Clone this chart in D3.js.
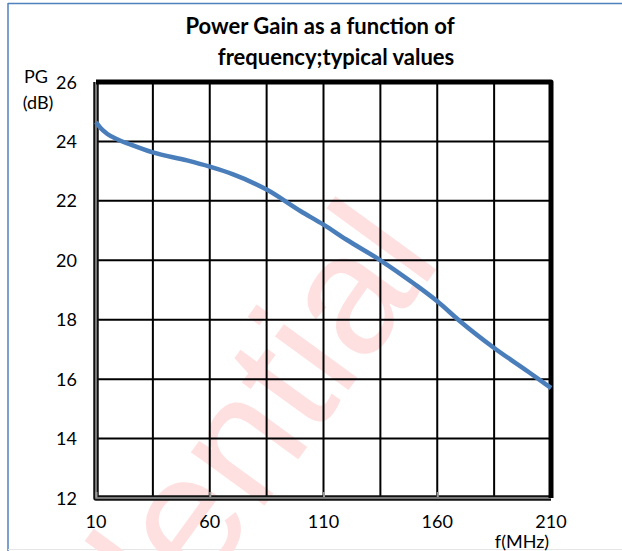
<!DOCTYPE html>
<html>
<head>
<meta charset="utf-8">
<script src="https://cdn.jsdelivr.net/npm/d3@7"></script>
<style>
  body { margin: 0; background: #fff; }
  text { font-family: Lato, "Open Sans", sans-serif; fill: #000; }
</style>
</head>
<body>
<div id="canvas"></div>
<script>
const w = 622, h = 551;

// values
const freq = [10, 12, 15, 20, 25, 35, 50, 60, 70, 85, 100, 110, 120, 135, 150, 160, 170, 185, 200, 210];
const gain = [24.65, 24.45, 24.25, 24.05, 23.9, 23.63, 23.36, 23.15, 22.9, 22.38, 21.65, 21.2, 20.7, 20.0, 19.2, 18.62, 17.95, 17.05, 16.25, 15.7];
const xTicks = [10, 60, 110, 160, 210];
const xGrid = [10, 35, 60, 85, 110, 135, 160, 185, 210];
const yTicks = [12, 14, 16, 18, 20, 22, 24, 26];
const titleLines = ["Power Gain as a function of", "frequency;typical values"];

const data = freq.map((f, i) => ({ f: f, g: gain[i] }));

let svg = d3.select("#canvas")
            .append("svg")
                .attr("width", w)
                .attr("height", h)
                .attr("viewBox", [0, 0, w, h]);

let x = d3.scaleLinear().domain([10, 210]).range([96, 551]);
let y = d3.scaleLinear().domain([12, 26]).range([498, 82]);

// outer chart frame
svg.append("line").attr("x1", 8).attr("x2", w).attr("y1", 3.5).attr("y2", 3.5)
    .attr("stroke", "#4f81bd").attr("stroke-width", 1.5);
svg.append("line").attr("x1", 8).attr("x2", 8).attr("y1", 3).attr("y2", h)
    .attr("stroke", "#4f81bd").attr("stroke-width", 1.5);
svg.append("line").attr("x1", 8).attr("x2", w).attr("y1", 549.5).attr("y2", 549.5)
    .attr("stroke", "#e6e6e6").attr("stroke-width", 1);

// watermark (runs off the bottom edge, as in the original)
svg.append("text")
    .attr("transform", "translate(443,260) rotate(-54)")
    .attr("text-anchor", "end")
    .style("font-family", "'Liberation Sans', Arial, sans-serif")
    .style("font-size", "172px")
    .style("fill", "#ffe0e0")
    .text("Confidential");

// grid
let g = svg.append("g");
g.selectAll("line.v")
    .data(xGrid)
  .enter().append("line")
    .attr("class", "v")
    .attr("x1", d => x(d)).attr("x2", d => x(d))
    .attr("y1", y(26)).attr("y2", y(12))
    .attr("stroke", "#000").attr("stroke-width", 2);
g.selectAll("line.h")
    .data(yTicks)
  .enter().append("line")
    .attr("class", "h")
    .attr("x1", x(10)).attr("x2", x(210))
    .attr("y1", d => y(d)).attr("y2", d => y(d))
    .attr("stroke", "#000").attr("stroke-width", 2);

// plot border: heavy top/right, double left/bottom
let lb = d3.path();
lb.moveTo(x(10), y(26)); lb.lineTo(x(10), y(12)); lb.lineTo(x(210), y(12));
svg.append("path").attr("d", lb.toString()).attr("fill", "none")
    .attr("stroke", "#111").attr("stroke-width", 5.5).attr("stroke-linejoin", "round");
svg.append("path").attr("d", lb.toString()).attr("fill", "none")
    .attr("stroke", "#9a9a9a").attr("stroke-width", 1.5);
let tr = d3.path();
tr.moveTo(x(10), y(26)); tr.lineTo(x(210), y(26)); tr.lineTo(x(210), y(12));
svg.append("path").attr("d", tr.toString()).attr("fill", "none")
    .attr("stroke", "#000").attr("stroke-width", 5).attr("stroke-linejoin", "round");

// small gray ticks in the bottom border
let xAxis = d3.axisBottom(x).tickValues(xTicks.slice(0, 4)).tickSize(-5).tickFormat("");
svg.append("g")
    .attr("transform", "translate(0," + (y(12) - 1) + ")")
    .call(xAxis)
    .call(a => a.select(".domain").remove())
    .call(a => a.selectAll("line").attr("stroke", "#999").attr("stroke-width", 2));

// curve
let line = d3.line()
    .x(d => x(d.f))
    .y(d => y(d.g))
    .curve(d3.curveMonotoneX);
svg.append("path")
    .datum(data)
    .attr("d", line)
    .attr("fill", "none")
    .attr("stroke", "#4a7ebb")
    .attr("stroke-width", 4.5)
    .attr("stroke-linecap", "butt");

// tick labels
svg.selectAll("text.yl")
    .data(yTicks)
  .enter().append("text")
    .attr("class", "yl")
    .attr("x", 77)
    .attr("y", d => y(d) + 6.5)
    .attr("text-anchor", "end")
    .style("font-size", "18px")
    .text(d => d);
svg.selectAll("text.xl")
    .data(xTicks)
  .enter().append("text")
    .attr("class", "xl")
    .attr("x", d => x(d))
    .attr("y", 528)
    .attr("text-anchor", "middle")
    .style("font-size", "18px")
    .text(d => d);

// axis titles
svg.append("text").attr("x", 36).attr("y", 83).attr("text-anchor", "middle")
    .style("font-size", "18px").text("PG");
svg.append("text").attr("x", 38).attr("y", 109).attr("text-anchor", "middle")
    .style("font-size", "18px").text("(dB)");
svg.append("text").attr("x", 522).attr("y", 548).attr("text-anchor", "middle")
    .style("font-size", "18px").text("f(MHz)");

// title
const titleX = [320, 336];
svg.selectAll("text.title")
    .data(titleLines)
  .enter().append("text")
    .attr("class", "title")
    .attr("x", (d, i) => titleX[i])
    .attr("y", (d, i) => 34 + i * 31)
    .attr("text-anchor", "middle")
    .style("font-size", "22px")
    .style("font-weight", "bold")
    .text(d => d);
</script>
</body>
</html>
